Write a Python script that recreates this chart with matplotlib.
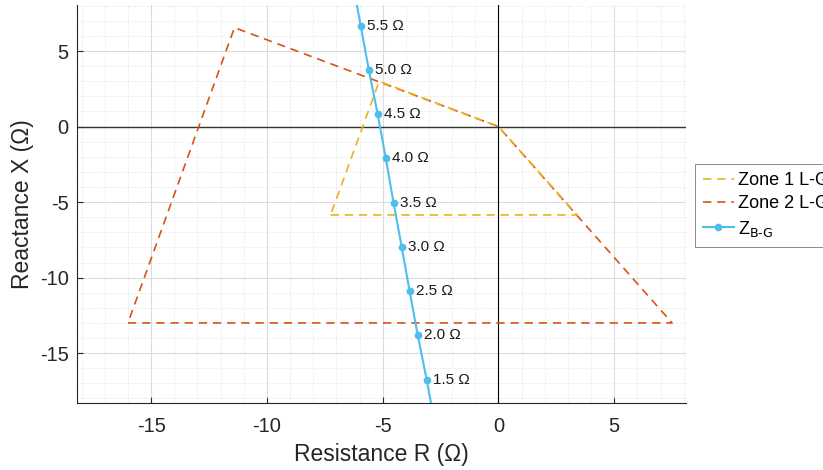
import matplotlib
matplotlib.use("Agg")
import matplotlib.pyplot as plt
from matplotlib.ticker import MultipleLocator

plt.rcParams['font.family'] = ['Liberation Sans', 'DejaVu Sans']
plt.rcParams['axes.unicode_minus'] = False

# Quadrilateral characteristics (R, X) in ohms
zone1_r = [-7.25, 3.4, 0.0, -5.15, -7.25]
zone1_x = [-5.85, -5.85, 0.0, 3.0, -5.85]
zone2_r = [-16.0, 7.5, 0.0, -11.4, -16.0]
zone2_x = [-13.0, -13.0, 0.0, 6.55, -13.0]

# Apparent impedance trajectory for a range of fault resistances
fault_res = [1.0, 1.5, 2.0, 2.5, 3.0, 3.5, 4.0, 4.5, 5.0, 5.5, 6.0]
z_r = [-2.75, -3.10, -3.49, -3.84, -4.18, -4.53, -4.87, -5.22, -5.60, -5.95, -6.30]
z_x = [-19.7, -16.75, -13.77, -10.86, -7.95, -5.03, -2.05, 0.86, 3.77, 6.69, 9.6]

xlim = (-18.2, 8.1)
ylim = (-18.3, 8.05)

fig = plt.figure(figsize=(8.23, 4.70), dpi=100)
ax = fig.add_axes([77/823, 1 - 403/470, 609/823, 398/470])

ax.axhline(0, color='#333333', lw=1.0, zorder=1)
ax.axvline(0, color='black', lw=0.8, zorder=1)

ax.plot(zone1_r, zone1_x, color='#EDB120', ls=(0, (5, 3.5)), lw=1.2, label='Zone 1 L-G', zorder=3)
ax.plot(zone2_r, zone2_x, color='#D95319', ls=(0, (5, 3.5)), lw=1.2, label='Zone 2 L-G', zorder=2)
ax.plot(z_r, z_x, color='#4DBEEE', lw=1.5, marker='o', markersize=4.5,
        label='Z$_{\\mathrm{B\\text{-}G}}$', zorder=4)

for rf, r, x in zip(fault_res, z_r, z_x):
    if xlim[0] < r < xlim[1] and ylim[0] < x < ylim[1]:
        ax.annotate(f"{rf:.1f} \u03a9", (r, x), xytext=(4.5, 0), textcoords='offset points',
                    ha='left', va='center', fontsize=11, color='#1a1a1a', zorder=5)

ax.set_xlim(*xlim)
ax.set_ylim(*ylim)
ax.xaxis.set_major_locator(MultipleLocator(5))
ax.yaxis.set_major_locator(MultipleLocator(5))
ax.xaxis.set_minor_locator(MultipleLocator(1))
ax.yaxis.set_minor_locator(MultipleLocator(1))
ax.grid(which='major', color='#dcdcdc', lw=0.8)
ax.grid(which='minor', color='#dedede', lw=0.6, ls=':')
ax.set_axisbelow(True)
ax.tick_params(which='both', direction='in', labelsize=14.5, colors='#262626')
ax.tick_params(which='minor', length=0)
ax.tick_params(which='major', length=4)
ax.tick_params(axis='x', pad=10)
ax.tick_params(axis='y', pad=6)
for s in ('top', 'right'):
    ax.spines[s].set_visible(False)
for s in ('left', 'bottom'):
    ax.spines[s].set_color('#262626')

ax.set_xlabel('Resistance R (\u03a9)', fontsize=16.5, color='#262626', labelpad=5)
ax.set_ylabel('Reactance X (\u03a9)', fontsize=16.5, color='#262626', labelpad=4)

leg = ax.legend(loc='center left', bbox_to_anchor=(1.014, 0.497), fontsize=13,
                frameon=True, fancybox=False, edgecolor='#555555', handlelength=1.75,
                borderaxespad=0, handletextpad=0.2, labelspacing=0.35, borderpad=0.45)
leg.get_frame().set_linewidth(0.6)

fig.savefig('out.png', dpi=100)
